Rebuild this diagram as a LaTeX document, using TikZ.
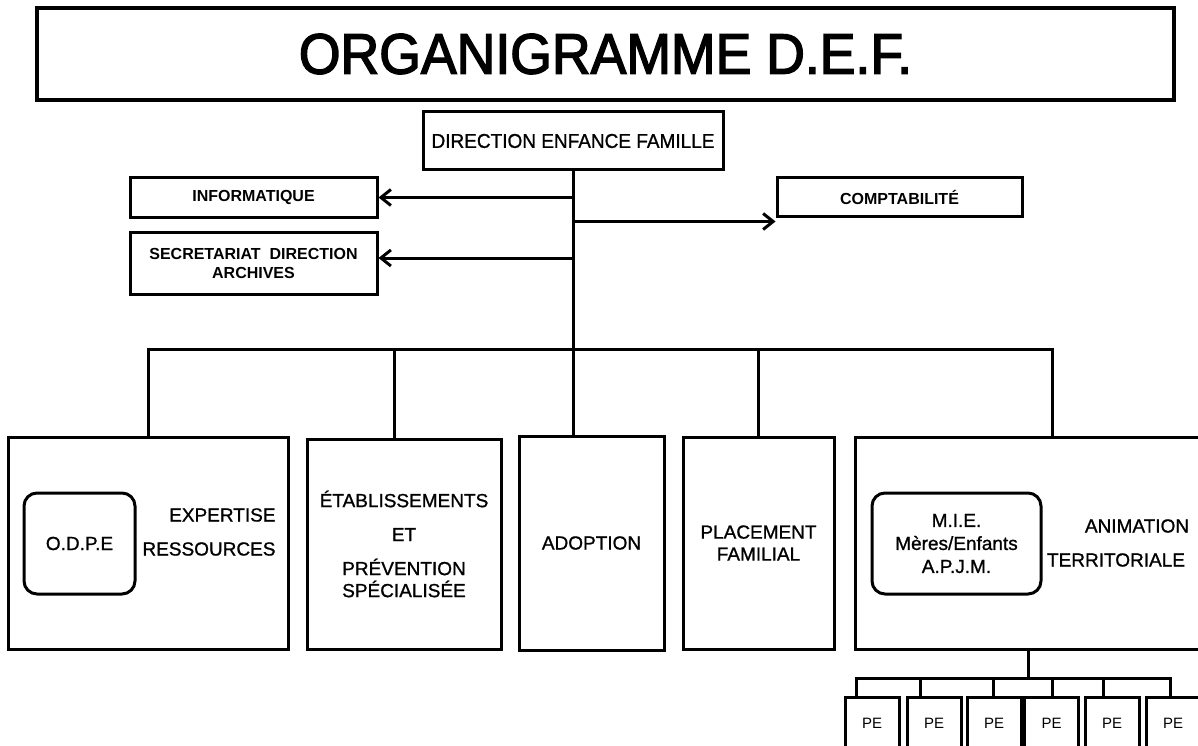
\documentclass[tikz,border=0pt]{standalone}
\usepackage{fontspec}
\setmainfont{Liberation Sans}
\newfontfamily\bodyfont[FakeBold=1]{Liberation Sans}
\newfontfamily\narrowfont[FakeStretch=0.95, FakeBold=1]{Liberation Sans}
\newfontfamily\titlefont[FakeStretch=0.94, FakeBold=2.5]{Liberation Sans}
\usetikzlibrary{arrows.meta}

\begin{document}
\begin{tikzpicture}[x=1pt, y=-1pt, line width=3pt,
	sz/.style 2 args={minimum width=#1pt, minimum height=#2pt},
	box/.style={draw, inner sep=0pt, align=center},
	inbox/.style={draw, rounded corners=13pt, inner sep=0pt, align=center, txt},
	txt/.style={font=\bodyfont\fontsize{19}{22}\selectfont},
	lab/.style={font=\bfseries\fontsize{16}{19}\selectfont},
	pebox/.style={draw, inner sep=0pt, sz={54}{52}, font=\fontsize{15}{18}\selectfont},
	arr/.style={-{Straight Barb[length=10pt,width=16pt]}}]
	\clip (0,0) rectangle (1198,746);
	\fill[white] (0,0) rectangle (1198,746);
	% top
	\node[box, line width=4pt, sz={1137}{92}, font=\titlefont\fontsize{57}{60}\selectfont] (title) at (605.5,54) {ORGANIGRAMME D.E.F.};
	\node[box, sz={300}{58}, font=\narrowfont\fontsize{20}{24}\selectfont] (dir) at (573,141) {DIRECTION ENFANCE FAMILLE};
	\node[box, sz={247}{39}, lab] (info) at (253.5,197.5) {INFORMATIQUE};
	\node[box, sz={247}{62}, lab] (secr) at (253.5,263) {SECRETARIAT\ \ DIRECTION\\ARCHIVES};
	\node[box, sz={245}{38}, lab] (compta) at (899.5,197) {COMPTABILITÉ};
	% services
	\node[box, sz={280}{212}] (expert) at (148,543) {};
	\node[inbox, sz={111}{101}] (odpe) at (79.5,543.5) {O.D.P.E};
	\node[txt, inner sep=0pt, anchor=east, align=right] (expres) at (277,532) {EXPERTISE\\[12pt]RESSOURCES};
	\node[box, sz={194}{210}, txt] (etab) at (404,544) {ÉTABLISSEMENTS\\[12pt]ET\\[12pt]PRÉVENTION\\SPÉCIALISÉE};
	\node[box, sz={145}{214}, txt] (adopt) at (591.5,543) {ADOPTION};
	\node[box, sz={151}{212}, txt] (place) at (758.5,543) {PLACEMENT\\FAMILIAL};
	\node[box, sz={360}{212}] (territ) at (1035,543) {};
	\node[inbox, sz={169}{101}, font=\bodyfont\fontsize{19}{23}\selectfont] (mie) at (956.5,543.5) {M.I.E.\\Mères/Enfants\\A.P.J.M.};
	\node[txt, inner sep=0pt] (animtxt) at (1137,526) {ANIMATION};
	\node[txt, inner sep=0pt] (territxt) at (1116,560) {TERRITORIALE};
	% links
	\coordinate (bus) at (573,349);
	\coordinate (secrin) at ([yshift=5pt]secr.east);
	\coordinate (comptain) at ([yshift=-4pt]compta.south west);
	\draw (dir.south) -- (bus);
	\draw[arr] (dir.south |- info.east) -- (info.east);
	\draw[arr] (dir.south |- secrin) -- (secrin);
	\draw[arr] (dir.south |- comptain) -- (comptain);
	\coordinate (t1) at (expert.north);
	\coordinate (t2) at ([xshift=-10pt]etab.north);
	\coordinate (t3) at (adopt.north -| bus);
	\coordinate (t4) at (place.north);
	\coordinate (t5) at ([xshift=17pt]territ.north);
	\draw (t1) |- (t5 |- bus) -- (t5);
	\foreach \t in {t2,t3,t4}
		\draw (\t) -- (\t |- bus);
	% PE
	\coordinate (pebus) at (1028,678);
	\draw (territ.south -| pebus) -- (pebus);
	\foreach \c/\o [count=\i] in {872/-16,934/-14,994/-1,1051.5/0.5,1112/-9,1173/-3} {
		\node[pebox] (pe\i) at (\c,723) {PE};
		\coordinate (d\i) at ([xshift=\o pt]pe\i.north);
		\draw (d\i) -- (d\i |- pebus);
		}
	\draw (d1) |- (d6 |- pebus) -- (d6);
\end{tikzpicture}
\end{document}
